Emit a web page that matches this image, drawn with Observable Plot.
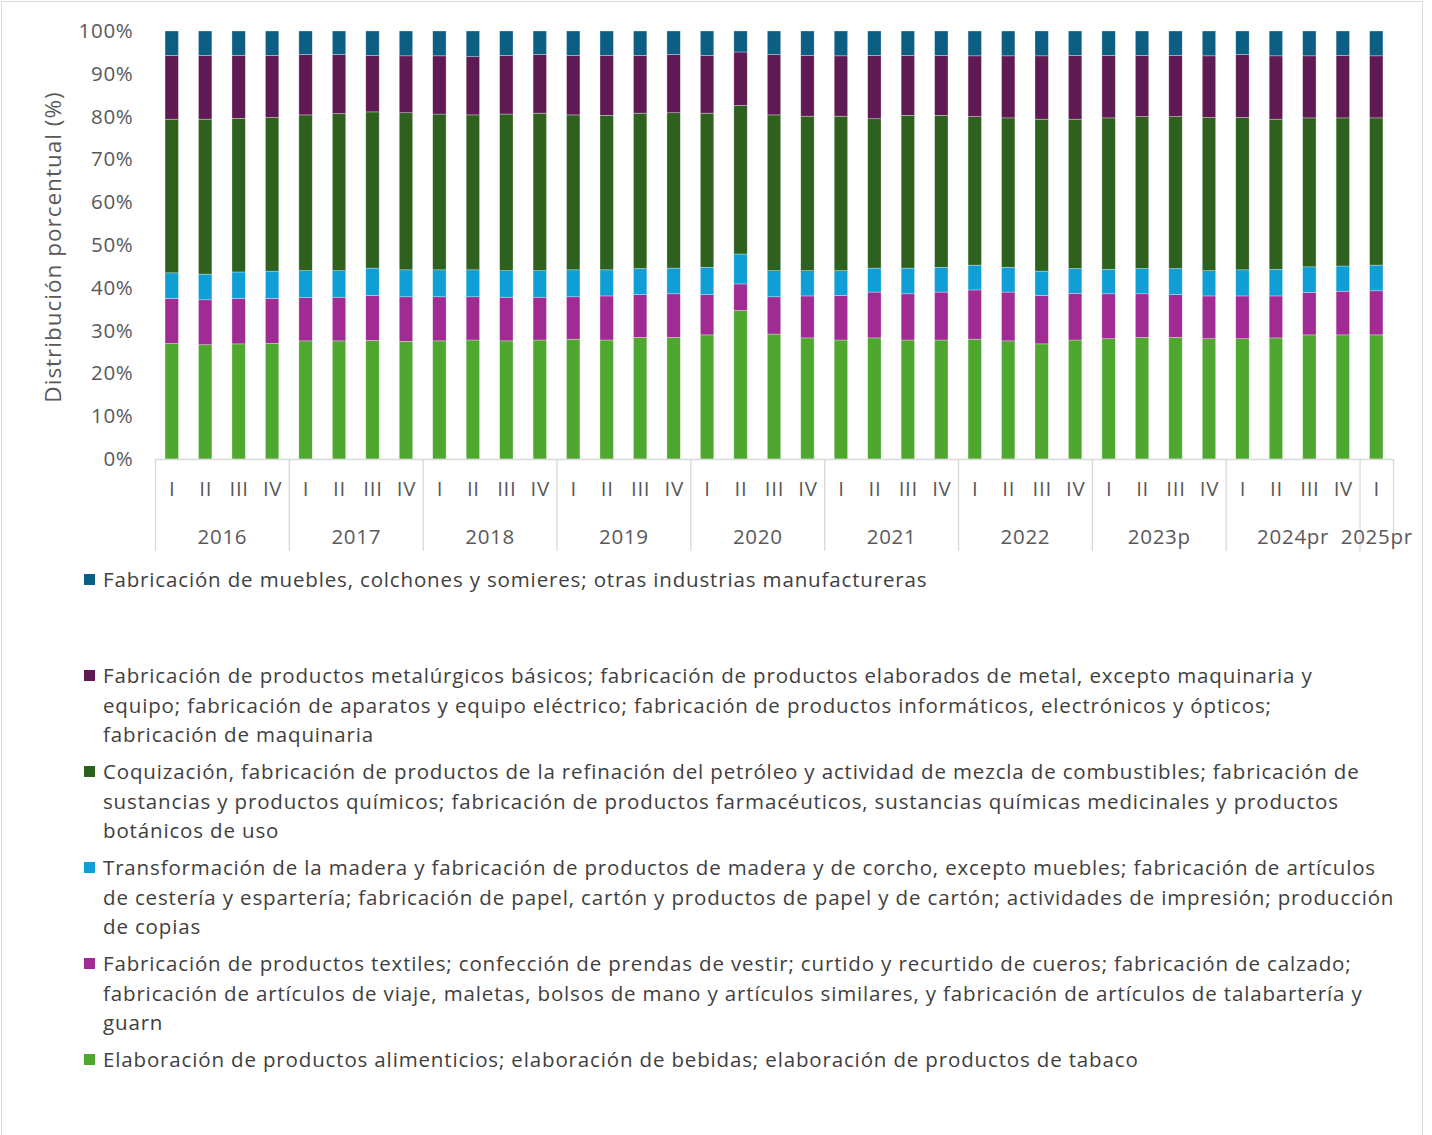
<!DOCTYPE html>
<html><head><meta charset="utf-8">
<script src="https://cdn.jsdelivr.net/npm/d3@7"></script>
<script src="https://cdn.jsdelivr.net/npm/@observablehq/plot@0.6"></script>
<style>
body{margin:0;background:#fff;font-family:"Open Sans",sans-serif;}
#frame{position:absolute;left:1px;top:1px;width:1422px;height:1140px;border:1px solid #d9d9d9;box-sizing:border-box;}
#chart{position:absolute;left:0;top:0;}
#ytitle{position:absolute;left:52px;top:247px;transform:translate(-50%,-50%) rotate(-90deg);font-size:22.5px;letter-spacing:1px;color:#595959;white-space:nowrap;}
#legend{position:absolute;left:84px;top:565px;}
.item{height:96px;position:relative;}
.sw{position:absolute;left:0;top:9px;width:11px;height:11px;}
.tx{position:absolute;left:19px;top:0;font-size:20.5px;letter-spacing:0.85px;line-height:29.5px;color:#404040;white-space:nowrap;}
</style></head><body>
<div id="frame"></div>
<div id="chart"></div>
<div id="ytitle">Distribución porcentual (%)</div>
<div id="legend"></div>
<script>
const years = ["2016","2017","2018","2019","2020","2021","2022","2023p","2024pr","2025pr"];
const quartersPerYear = [4,4,4,4,4,4,4,4,4,1];
const quarterNames = ["I","II","III","IV"];

const seriesNames = [
  "Elaboración de productos alimenticios; elaboración de bebidas; elaboración de productos de tabaco",
  "Fabricación de productos textiles; confección de prendas de vestir; curtido y recurtido de cueros; fabricación de calzado; fabricación de artículos de viaje, maletas, bolsos de mano y artículos similares, y fabricación de artículos de talabartería y guarn",
  "Transformación de la madera y fabricación de productos de madera y de corcho, excepto muebles; fabricación de artículos de cestería y espartería; fabricación de papel, cartón y productos de papel y de cartón; actividades de impresión; producción de copias",
  "Coquización, fabricación de productos de la refinación del petróleo y actividad de mezcla de combustibles; fabricación de sustancias y productos químicos; fabricación de productos farmacéuticos, sustancias químicas medicinales y productos botánicos de uso",
  "Fabricación de productos metalúrgicos básicos; fabricación de productos elaborados de metal, excepto maquinaria y equipo; fabricación de aparatos y equipo eléctrico; fabricación de productos informáticos, electrónicos y ópticos; fabricación de maquinaria",
  "Fabricación de muebles, colchones y somieres; otras industrias manufactureras"
];
const seriesColors = ["#4ea72e","#a02b93","#0f9ed5","#2e611e","#5f1a54","#0c5f82"];

// Shares (%) per quarter, 2016-I ... 2025-I
const alimentos = [27.0,26.7,26.9,27.0, 27.6,27.6,27.7,27.5, 27.6,27.8,27.6,27.8, 28.0,27.8,28.4,28.4, 29.0,34.7,29.2,28.3, 27.8,28.3,27.8,27.8, 28.0,27.6,26.9,27.8, 28.1,28.4,28.4,28.1, 28.1,28.3,29.0,29.0, 29.0];
const textiles  = [10.5,10.5,10.6,10.5, 10.1,10.2,10.5,10.4, 10.3,10.1,10.2,10.0, 9.9,10.3,10.0,10.2, 9.4,6.2,8.7,9.8, 10.4,10.7,10.8,11.2, 11.5,11.4,11.3,10.9, 10.5,10.2,10.0,10.0, 10.0,9.8,9.9,10.2, 10.3];
const madera    = [6.0,6.0,6.2,6.4, 6.3,6.2,6.4,6.3, 6.3,6.3,6.2,6.2, 6.3,6.1,6.1,6.0, 6.4,7.0,6.1,5.9, 5.8,5.6,6.0,5.8, 5.8,5.8,5.7,5.8, 5.7,5.9,6.1,5.9, 6.1,6.2,6.0,5.9, 6.0];
const quimicos  = [35.9,36.2,35.9,35.9, 36.4,36.7,36.5,36.7, 36.4,36.2,36.6,36.8, 36.2,36.1,36.3,36.3, 36.0,34.7,36.4,36.1, 36.1,34.9,35.7,35.5, 34.7,34.9,35.5,34.9, 35.4,35.5,35.5,35.8, 35.6,35.1,34.8,34.6, 34.4];
const metal     = [14.9,14.9,14.7,14.5, 14.1,13.8,13.2,13.3, 13.6,13.6,13.7,13.7, 13.9,14.0,13.5,13.6, 13.5,12.5,14.1,14.2, 14.1,14.8,14.0,14.0, 14.2,14.5,14.8,14.9, 14.6,14.3,14.3,14.4, 14.7,14.8,14.5,14.6, 14.5];
const muebles   = [5.7,5.7,5.7,5.7, 5.5,5.5,5.7,5.8, 5.8,6.0,5.7,5.5, 5.7,5.7,5.7,5.5, 5.7,4.9,5.5,5.7, 5.8,5.7,5.7,5.7, 5.8,5.8,5.8,5.7, 5.7,5.7,5.7,5.8, 5.5,5.8,5.8,5.7, 5.8];
const seriesValues = [alimentos, textiles, madera, quimicos, metal, muebles];

const legendOrder = [5,4,3,2,1,0];
const legendLines = {
  5: ["Fabricación de muebles, colchones y somieres; otras industrias manufactureras"],
  4: ["Fabricación de productos metalúrgicos básicos; fabricación de productos elaborados de metal, excepto maquinaria y",
      "equipo; fabricación de aparatos y equipo eléctrico; fabricación de productos informáticos, electrónicos y ópticos;",
      "fabricación de maquinaria"],
  3: ["Coquización, fabricación de productos de la refinación del petróleo y actividad de mezcla de combustibles; fabricación de",
      "sustancias y productos químicos; fabricación de productos farmacéuticos, sustancias químicas medicinales y productos",
      "botánicos de uso"],
  2: ["Transformación de la madera y fabricación de productos de madera y de corcho, excepto muebles; fabricación de artículos",
      "de cestería y espartería; fabricación de papel, cartón y productos de papel y de cartón; actividades de impresión; producción",
      "de copias"],
  1: ["Fabricación de productos textiles; confección de prendas de vestir; curtido y recurtido de cueros; fabricación de calzado;",
      "fabricación de artículos de viaje, maletas, bolsos de mano y artículos similares, y fabricación de artículos de talabartería y",
      "guarn"],
  0: ["Elaboración de productos alimenticios; elaboración de bebidas; elaboración de productos de tabaco"]
};

// build periods
const periods = [];
const yearGroups = [];
years.forEach((y, k) => {
  const start = periods.length;
  for (let q = 0; q < quartersPerYear[k]; q++) periods.push({i: periods.length, year: y, q: quarterNames[q]});
  yearGroups.push({year: y, start, end: periods.length - 1});
});
const data = [];
periods.forEach(p => {
  seriesNames.forEach((s, k) => data.push({i: p.i, series: s, value: seriesValues[k][p.i]}));
});
const boundaries = yearGroups.map(g => g.start - 0.5).concat([periods.length - 0.5]);
const n = periods.length;

const chart = Plot.plot({
  width: 1432,
  height: 555,
  marginLeft: 155,
  marginRight: 39,
  marginTop: 31,
  marginBottom: 96,
  style: {fontFamily: '"Open Sans", sans-serif', background: "transparent", overflow: "visible", letterSpacing: "0.7px"},
  x: {domain: [-0.5, n - 0.5], axis: null},
  y: {domain: [0, 100], axis: null},
  color: {domain: seriesNames, range: seriesColors},
  marks: [
    Plot.rectY(data, Plot.stackY({x1: d => d.i - 0.2, x2: d => d.i + 0.2, y: "value", fill: "series", stroke: "white", strokeWidth: 0.6, strokeOpacity: 0.5})),
    Plot.ruleY([0], {stroke: "#d9d9d9", strokeWidth: 1.3}),
    Plot.axisX({ticks: boundaries, tickSize: 92, tickFormat: () => "", stroke: "#d9d9d9", strokeWidth: 1.3, label: null}),
    Plot.text(periods, {x: "i", y: 0, text: "q", dy: 30, fontSize: 20.5, fill: "#595959", lineAnchor: "middle"}),
    Plot.text(yearGroups, {x: d => (d.start + d.end) / 2, y: 0, text: "year", dy: 78, fontSize: 20.5, fill: "#595959", lineAnchor: "middle"}),
    Plot.axisY({ticks: d3.range(0, 101, 10), tickFormat: d => d + "%", tickSize: 0, tickPadding: 22, fontSize: 20.5, fill: "#595959", label: null})
  ]
});
document.getElementById("chart").appendChild(chart);

const legend = document.getElementById("legend");
legendOrder.forEach(k => {
  const item = document.createElement("div");
  item.className = "item";
  const sw = document.createElement("div");
  sw.className = "sw";
  sw.style.background = seriesColors[k];
  const tx = document.createElement("div");
  tx.className = "tx";
  tx.innerHTML = legendLines[k].map(l => l.replace(/&/g, "&amp;")).join("<br>");
  item.appendChild(sw); item.appendChild(tx);
  legend.appendChild(item);
});
</script>
</body></html>
